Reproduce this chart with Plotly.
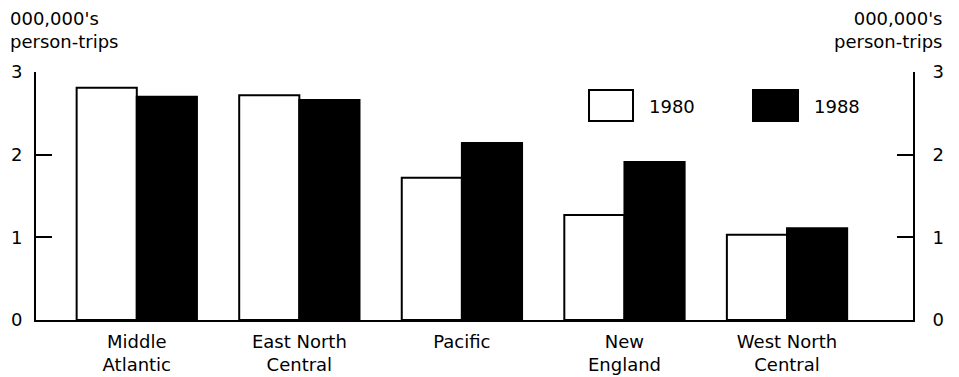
import plotly.graph_objects as go

categories = ["Middle<br>Atlantic", "East North<br>Central", "Pacific", "New<br>England", "West North<br>Central"]
values_1980 = [2.81, 2.72, 1.72, 1.27, 1.03]
values_1988 = [2.70, 2.66, 2.14, 1.91, 1.11]
ytick_vals = [0, 1, 2, 3]
ytick_text = ["0", "1", "2", "3"]

x = list(range(len(categories)))
FONT = "DejaVu Sans, Arial, sans-serif"

fig = go.Figure()
fig.add_trace(go.Bar(x=x, y=values_1980, name="1980",
                     marker=dict(color="white", line=dict(color="black", width=2))))
fig.add_trace(go.Bar(x=x, y=values_1988, name="1988",
                     marker=dict(color="black", line=dict(color="black", width=2))))
# invisible trace to anchor right axis
fig.add_trace(go.Scatter(x=[x[0]], y=[0], yaxis="y2", mode="markers",
                         marker=dict(opacity=0), showlegend=False, hoverinfo="skip"))

# page body has an 8px margin; plot area target in page pixels: x 36..913, y 72..320
fig.update_layout(
    width=951, height=369,
    margin=dict(l=28, r=46, t=64, b=57),
    paper_bgcolor="white", plot_bgcolor="white",
    barmode="group", bargap=0.26, bargroupgap=0,
    showlegend=False,
    font=dict(family=FONT, size=18, color="black"),
    xaxis=dict(range=[-0.62, 4.775], tickvals=x, ticktext=categories,
               showline=True, linecolor="black", linewidth=2, ticks="",
               showgrid=False, zeroline=False, tickfont=dict(size=18),
               ticklabelstandoff=4, automargin=False),
    yaxis=dict(range=[0, 3], tickvals=ytick_vals, ticktext=ytick_text,
               showline=True, linecolor="black", linewidth=2,
               ticks="inside", ticklen=16, tickwidth=2, tickcolor="black",
               showgrid=False, zeroline=False, ticklabelstandoff=8,
               tickfont=dict(size=18), automargin=False),
    yaxis2=dict(range=[0, 3], tickvals=ytick_vals, ticktext=ytick_text,
                overlaying="y", side="right",
                showline=True, linecolor="black", linewidth=2,
                ticks="inside", ticklen=16, tickwidth=2, tickcolor="black",
                showgrid=False, zeroline=False, ticklabelstandoff=14,
                tickfont=dict(size=18), automargin=False),
)

# helpers: page pixel -> paper coords
def px(xp):
    return (xp - 36) / 877
def py(yp):
    return (320 - yp) / 248

fig.add_annotation(text="000,000's<br>person-trips", xref="paper", yref="paper",
                   x=px(8), y=py(6), xanchor="left", yanchor="top",
                   showarrow=False, align="left", font=dict(size=18))
fig.add_annotation(text="000,000's<br>person-trips", xref="paper", yref="paper",
                   x=px(944), y=py(6), xanchor="right", yanchor="top",
                   showarrow=False, align="right", font=dict(size=18))

# legend boxes
fig.add_shape(type="rect", xref="paper", yref="paper",
              x0=px(589), x1=px(633), y0=py(121), y1=py(90),
              line=dict(color="black", width=2), fillcolor="white")
fig.add_shape(type="rect", xref="paper", yref="paper",
              x0=px(753), x1=px(798), y0=py(121), y1=py(90),
              line=dict(color="black", width=2), fillcolor="black")
fig.add_annotation(text="1980", xref="paper", yref="paper", x=px(647), y=py(106),
                   xanchor="left", yanchor="middle", showarrow=False, font=dict(size=18))
fig.add_annotation(text="1988", xref="paper", yref="paper", x=px(812), y=py(106),
                   xanchor="left", yanchor="middle", showarrow=False, font=dict(size=18))

fig.write_html("out.html")
